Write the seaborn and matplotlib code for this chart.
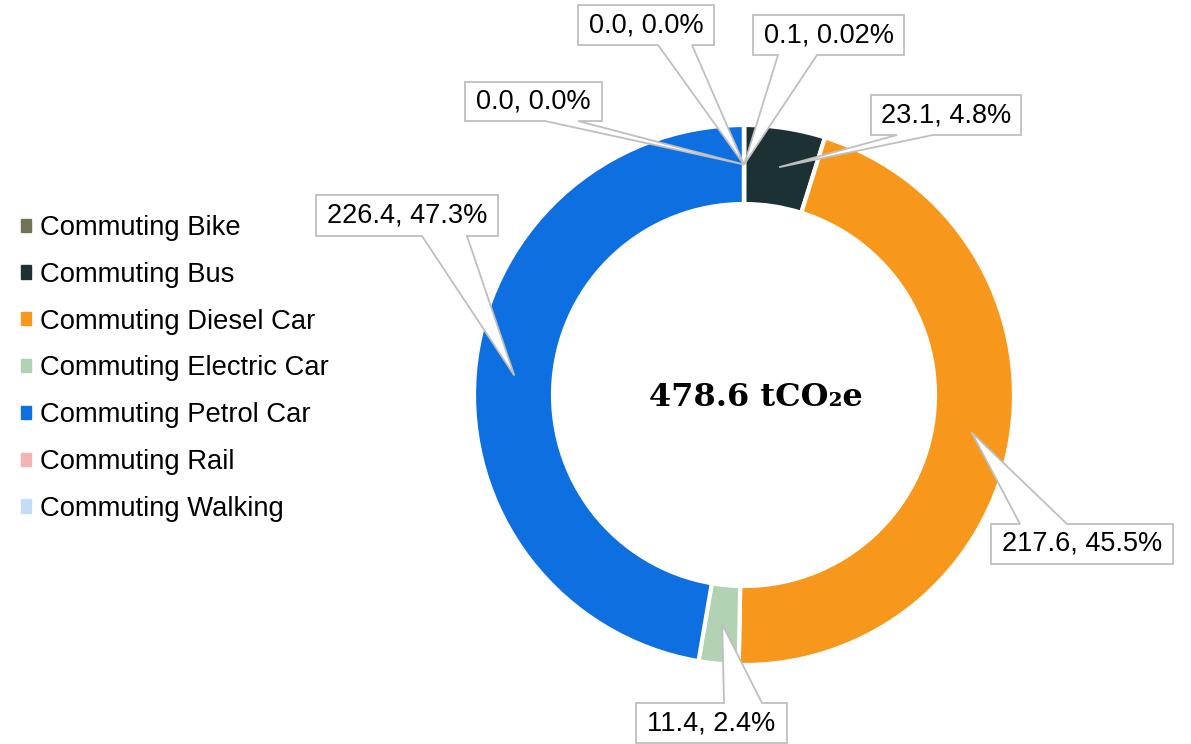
import matplotlib
matplotlib.use("Agg")
import matplotlib.pyplot as plt
import matplotlib.patches as mpatches
import numpy as np
import seaborn as sns

# data
categories = ['Commuting Bike', 'Commuting Bus', 'Commuting Diesel Car',
              'Commuting Electric Car', 'Commuting Petrol Car',
              'Commuting Rail', 'Commuting Walking']
emissions = [0.1, 23.1, 217.6, 11.4, 226.4, 0.0, 0.0]
pct_labels = ['0.02%', '4.8%', '45.5%', '2.4%', '47.3%', '0.0%', '0.0%']
colors = ['#737355', '#1b3133', '#f7981d', '#b2d3b3', '#0d6fe0', '#f6b3b3', '#c5dcf6']
total_label = '478.6 tCO\u2082e'

W, H = 1191, 744

def py(y):
    # pixel row (from top) -> data y
    return H - y

# callout layout in pixels: box (x0, y0, x1, y1), pointer base edge and span
callouts = [
    ((753, 15, 904, 55), 'bottom', (778, 817)),
    ((871, 95, 1021, 135), 'bottom', (897, 933)),
    ((991, 524, 1173, 564), 'top', (1020, 1067)),
    ((636, 703, 787, 743), 'top', (724, 762)),
    ((316, 195, 498, 236), 'bottom', (422, 467)),
    ((465, 82, 602, 121), 'bottom', (545, 578)),
    ((578, 5, 714, 45), 'bottom', (658, 692)),
]

sns.set_theme(style='white')
plt.rcParams['font.family'] = ['Liberation Sans', 'DejaVu Sans']
plt.rcParams['text.color'] = 'black'

fig = plt.figure(figsize=(W / 100, H / 100), dpi=100)
ax = fig.add_axes([0, 0, 1, 1])

cx, cy = 744, py(395)
R, ring = 270, 79
palette = sns.color_palette(colors)
wedges, _ = ax.pie(emissions, colors=palette, startangle=90, counterclock=False,
                   radius=R, center=(cx, cy),
                   wedgeprops=dict(width=ring, edgecolor='white', linewidth=3))
ax.set_xlim(0, W)
ax.set_ylim(0, H)
ax.set_aspect('auto')
ax.axis('off')

# callouts
polys = []
for w, (box, side, base) in zip(wedges, callouts):
    mid = np.deg2rad((w.theta1 + w.theta2) / 2)
    rm = R - ring / 2
    tip = (cx + rm * np.cos(mid), cy + rm * np.sin(mid))
    x0, y0, x1, y1 = box
    b0, b1 = base
    if side == 'bottom':
        pts = [(x0, py(y0)), (x1, py(y0)), (x1, py(y1)), (b1, py(y1)), tip,
               (b0, py(y1)), (x0, py(y1))]
    else:
        pts = [(x0, py(y0)), (b0, py(y0)), tip, (b1, py(y0)), (x1, py(y0)),
               (x1, py(y1)), (x0, py(y1))]
    polys.append(pts)

for pts in polys:
    ax.add_patch(mpatches.Polygon(pts, closed=True, fc='white', ec='none', zorder=5))
for pts in polys:
    ax.add_patch(mpatches.Polygon(pts, closed=True, fc='none', ec='#bfbfbf',
                                  lw=1.3, zorder=6))

for v, p, (box, _, _) in zip(emissions, pct_labels, callouts):
    x0, y0, x1, y1 = box
    ax.text((x0 + x1) / 2, py((y0 + y1) / 2), f'{v:.1f}, {p}', fontsize=19.5,
            ha='center', va='center', color='black', zorder=7)

ax.text(756, py(406), total_label, fontsize=23, fontweight='bold',
        family=['DejaVu Serif', 'DejaVu Sans'], ha='center', va='baseline',
        color='black')

handles = [mpatches.Patch(color=c) for c in palette]
ax.legend(handles, categories, loc='upper left', bbox_to_anchor=(21, py(215)),
          bbox_transform=ax.transData, frameon=False, fontsize=19.7,
          labelcolor='black', handlelength=0.36, handleheight=0.36,
          handletextpad=0.32, labelspacing=0.76, borderpad=0, borderaxespad=0)

fig.savefig('out.png', dpi=100)
